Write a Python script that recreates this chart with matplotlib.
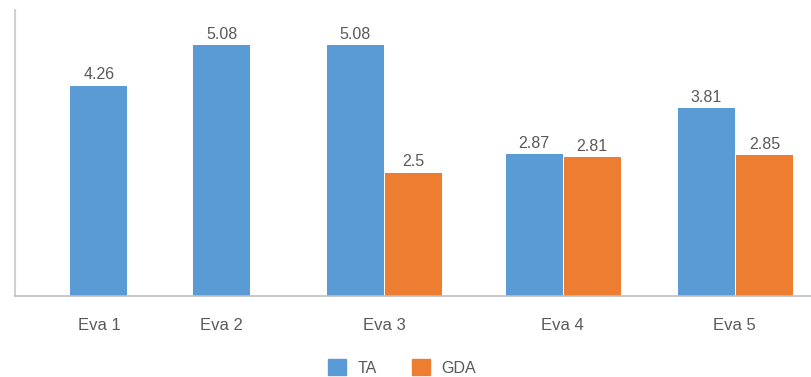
import matplotlib.pyplot as plt
import numpy as np

# Scores per evaluation round
categories = ["Eva 1", "Eva 2", "Eva 3", "Eva 4", "Eva 5"]
ta_values = [4.26, 5.08, 5.08, 2.87, 3.81]
gda_values = [None, None, 2.5, 2.81, 2.85]

# Group centres along the x axis (Eva 1 and 2 have no GDA bar)
centers = np.array([0.0, 0.97, 2.25, 3.66, 5.02])
bar_w = 0.45

BLUE = "#5B9BD5"
ORANGE = "#ED7D31"
TEXT = "#595959"

plt.rcParams["font.family"] = ["Liberation Sans", "DejaVu Sans"]

fig = plt.figure(figsize=(8.12, 3.77), dpi=100)
ax = fig.add_axes([0.0185, 0.215, 0.9815, 0.7585])

for i, c in enumerate(centers):
    ta = ta_values[i]
    gda = gda_values[i]
    if gda is None:
        xs = [(c, ta, BLUE)]
    else:
        xs = [(c - bar_w / 2, ta, BLUE), (c + bar_w / 2 + 0.01, gda, ORANGE)]
    for x, v, col in xs:
        ax.bar(x, v, width=bar_w, color=col, edgecolor="none")
        ax.text(x, v + 0.07, f"{v:g}", ha="center", va="bottom",
                fontsize=11.5, color=TEXT)

ax.set_xlim(-0.663, 5.63)
ax.set_ylim(0, 5.8)
ax.set_xticks(centers)
ax.set_xticklabels(categories, fontsize=12, color=TEXT)
ax.tick_params(axis="x", length=0, pad=16)
ax.set_yticks([])

for side in ["top", "right"]:
    ax.spines[side].set_visible(False)
ax.spines["left"].set_color("#D0D0D0")
ax.spines["left"].set_linewidth(1.5)
ax.spines["bottom"].set_color("#BFBFBF")
ax.spines["bottom"].set_linewidth(1.2)

# Legend below the plot
handles = [plt.Rectangle((0, 0), 1, 1, color=BLUE),
           plt.Rectangle((0, 0), 1, 1, color=ORANGE)]
fig.legend(handles, ["TA", "GDA"], loc="lower center", ncol=2,
           bbox_to_anchor=(0.495, -0.035), frameon=False, fontsize=11.5,
           handlelength=1.15, handleheight=1.15, columnspacing=2.2,
           handletextpad=0.7, labelcolor=TEXT)

fig.savefig("out.png", dpi=100)
